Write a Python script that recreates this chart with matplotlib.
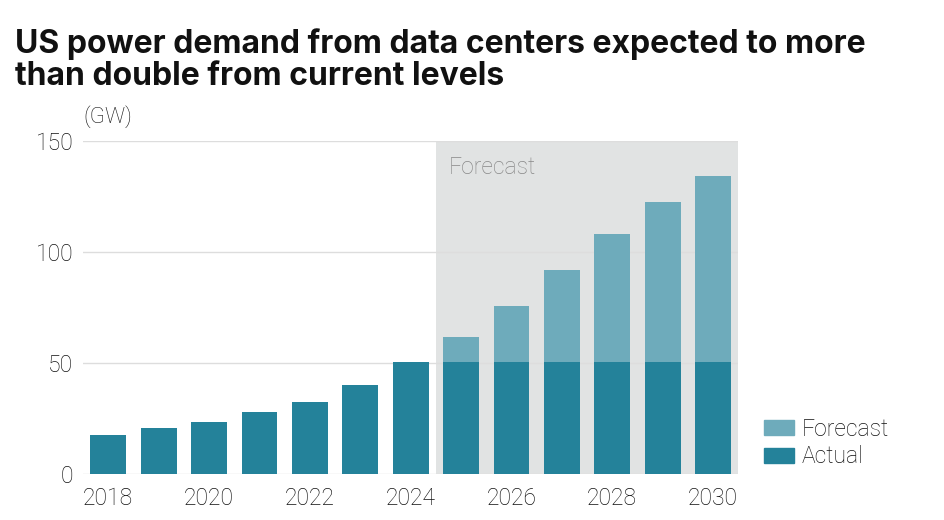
import matplotlib.pyplot as plt
from matplotlib.patches import Patch

years = [2018, 2019, 2020, 2021, 2022, 2023, 2024, 2025, 2026, 2027, 2028, 2029, 2030]
actual = [17.5, 20.9, 23.3, 27.8, 32.6, 40.2, 50.4, 50.4, 50.4, 50.4, 50.4, 50.4, 50.4]
total = [17.5, 20.9, 23.3, 27.8, 32.6, 40.2, 50.4, 61.7, 75.7, 91.9, 107.9, 122.6, 134.2]
forecast = [t - a for t, a in zip(total, actual)]

c_actual = '#24829A'
c_fore = '#6EABBB'
txt = '#111111'

plt.rcParams['font.family'] = ['Roboto', 'DejaVu Sans']

fig = plt.figure(figsize=(9.44, 5.2), dpi=100)
ax = fig.add_axes([0.088, 0.088, 0.694, 0.641])

# shaded forecast period and light gridlines
ax.axvspan(2024.5, 2030.5, color='#E1E3E3', zorder=0, lw=0)
for y in [0, 50, 100, 150]:
    ax.axhline(y, color='#DDDDDD', lw=1, zorder=1)

ax.bar(years, actual, width=0.71, color=c_actual, zorder=2)
ax.bar(years, forecast, bottom=actual, width=0.71, color=c_fore, zorder=2)

ax.set_xlim(2017.5, 2030.5)
ax.set_ylim(0, 150)
for s in ax.spines.values():
    s.set_visible(False)
ax.set_yticks([0, 50, 100, 150])
ax.set_xticks([2018, 2020, 2022, 2024, 2026, 2028, 2030])
ax.tick_params(length=0, labelsize=16.5, labelcolor=txt, pad=9)
ax.tick_params(axis='y', pad=7)
for lab in ax.get_xticklabels() + ax.get_yticklabels():
    lab.set_fontweight('light')

ax.text(2024.75, 143, 'Forecast', fontsize=16.5, color='#888888', va='top',
        fontweight='light')
ax.text(0, 1.04, '(GW)', transform=ax.transAxes, fontsize=16, color=txt,
        fontweight='light', va='bottom')

fig.text(0.016, 0.945, 'US power demand from data centers expected to more\nthan double from current levels',
         fontsize=23, fontweight='bold', color='#111111', va='top', linespacing=1.02,
         family=['Inter', 'DejaVu Sans'])

handles = [Patch(color=c_fore, label='Forecast'), Patch(color=c_actual, label='Actual')]
leg = fig.legend(handles=handles, loc='lower left', bbox_to_anchor=(0.787, 0.06),
                 frameon=False, fontsize=16.5, handlelength=1.35, handleheight=0.62,
                 handletextpad=0.3, labelspacing=0.2)
for t in leg.get_texts():
    t.set_color(txt)
    t.set_fontweight('light')

fig.savefig('out.png', dpi=100)
